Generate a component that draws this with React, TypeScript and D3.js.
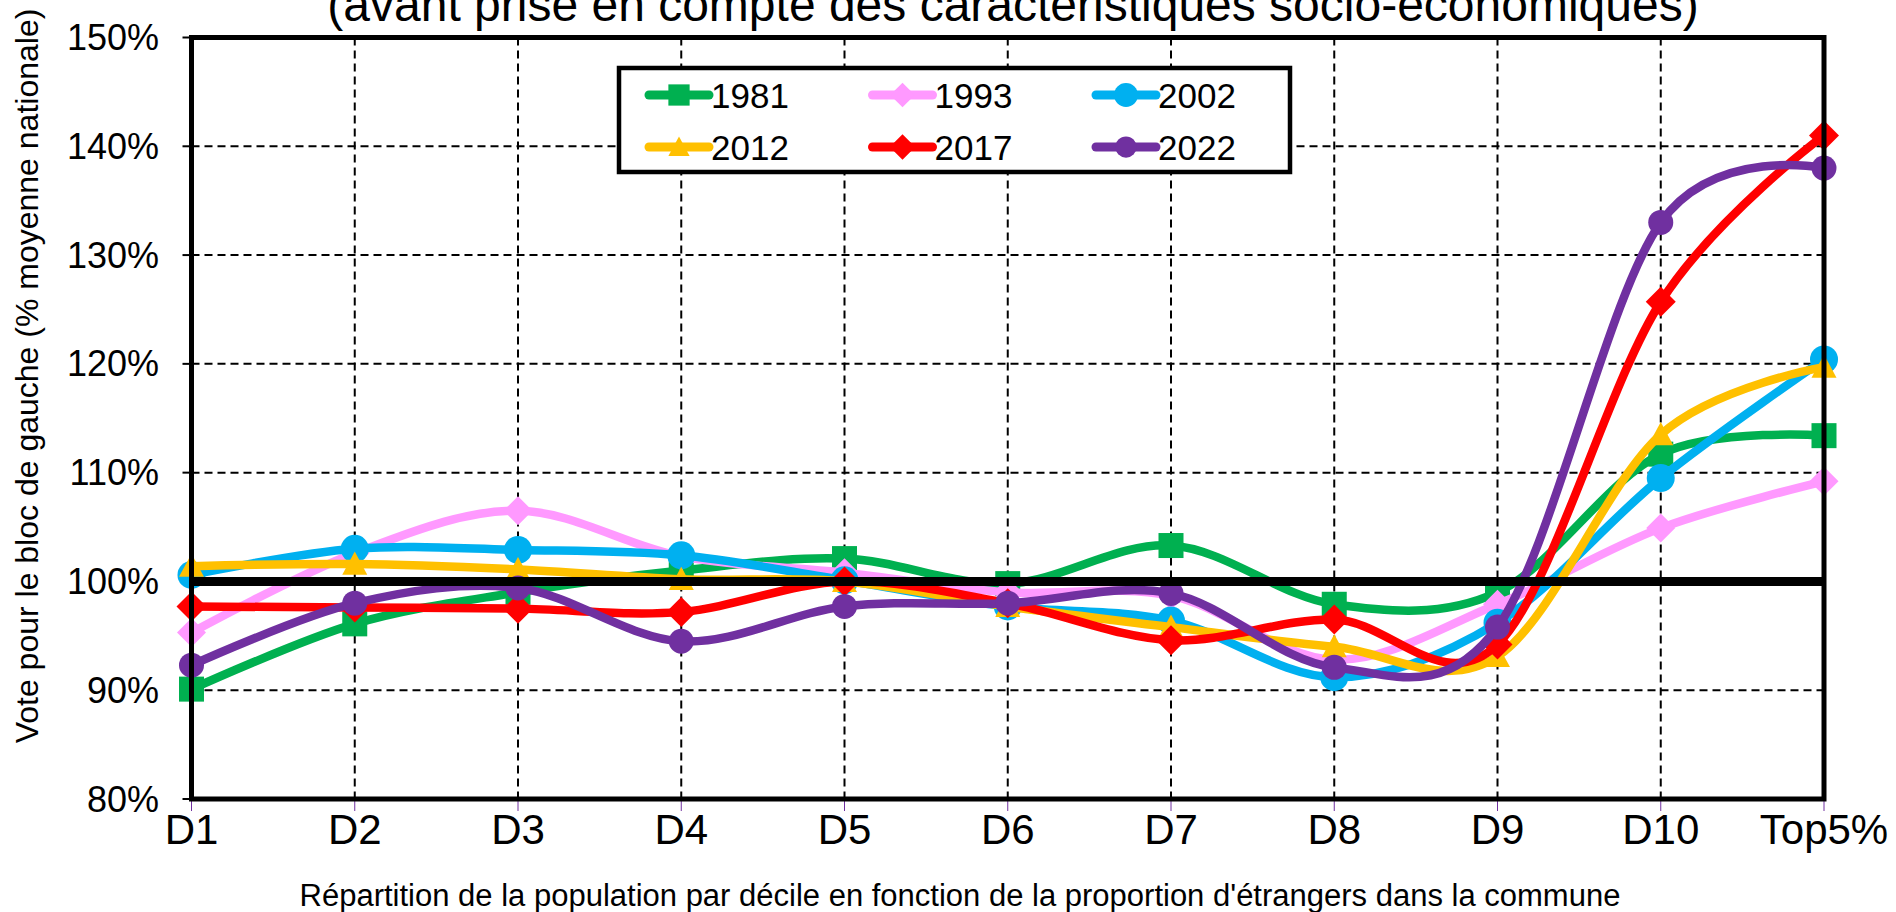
import * as d3 from "d3"

const categories = ["D1", "D2", "D3", "D4", "D5", "D6", "D7", "D8", "D9", "D10", "Top5%"]
const yTicks = [80, 90, 100, 110, 120, 130, 140, 150]

const v1981 = [90.1, 96.1, 99.0, 101.0, 102.1, 99.8, 103.3, 97.9, 99.0, 111.7, 113.4]
const v1993 = [95.3, 102.6, 106.5, 102.3, 100.8, 99.0, 98.7, 92.8, 97.9, 104.9, 109.2]
const v2002 = [100.6, 103.0, 102.9, 102.4, 100.1, 97.7, 96.4, 91.2, 96.2, 109.5, 120.4]
const v2012 = [101.4, 101.6, 101.1, 100.2, 100.0, 97.7, 95.8, 94.0, 93.1, 113.5, 119.7]
const v2017 = [97.7, 97.6, 97.5, 97.2, 100.0, 98.0, 94.6, 96.5, 94.2, 125.7, 141.0]
const v2022 = [92.3, 98.0, 99.4, 94.5, 97.7, 98.0, 98.9, 92.1, 95.8, 133.0, 138.0]

type Shape = "square" | "diamond" | "circle" | "triangle"

const series: { name: string; values: number[]; color: string; shape: Shape; size: number }[] = [
  { name: "1981", values: v1981, color: "#00B050", shape: "square", size: 25 },
  { name: "1993", values: v1993, color: "#FF99FF", shape: "diamond", size: 29 },
  { name: "2002", values: v2002, color: "#00B0F0", shape: "circle", size: 28 },
  { name: "2012", values: v2012, color: "#FFC000", shape: "triangle", size: 25 },
  { name: "2017", values: v2017, color: "#FF0000", shape: "diamond", size: 30 },
  { name: "2022", values: v2022, color: "#7030A0", shape: "circle", size: 25 },
]

const FONT = "'Liberation Sans', Arial, sans-serif"

function Marker({ shape, size, color, x, y }: { shape: Shape; size: number; color: string; x: number; y: number }) {
  const h = size / 2
  if (shape === "square") return <rect x={x - h} y={y - h} width={size} height={size} fill={color} />
  if (shape === "circle") return <circle cx={x} cy={y} r={h} fill={color} />
  if (shape === "diamond")
    return <path d={`M${x},${y - h}L${x + h},${y}L${x},${y + h}L${x - h},${y}Z`} fill={color} />
  return <path d={`M${x},${y - h}L${x + h},${y + h * 0.85}L${x - h},${y + h * 0.85}Z`} fill={color} />
}

export default function App() {
  const width = 1896
  const height = 912
  const margin = { top: 37.5, right: 72, bottom: 113, left: 191.5 }

  const x = d3.scalePoint<string>()
    .domain(categories)
    .range([margin.left, width - margin.right])

  const y = d3.scaleLinear()
    .domain([80, 150])
    .range([height - margin.bottom, margin.top])

  const line = d3.line<number>()
    .x((_, i) => x(categories[i]) ?? 0)
    .y((d) => y(d))
    .curve(d3.curveCardinal.tension(0))

  // legend layout
  const legX = 619
  const legY = 68
  const colW = 223.5
  const rowH = 52

  return (
    <svg
      width={width}
      height={height}
      style={{ position: "absolute", left: 0, top: 0, background: "#fff" }}
      fontFamily={FONT}
    >
      {/* Title (cut at the top, as in the source) */}
      <text x={1013} y={21} textAnchor="middle" fontSize={48} fill="#000">
        (avant prise en compte des caractéristiques socio-économiques)
      </text>

      {/* gridlines */}
      {yTicks.filter((t) => t > 80 && t < 150 && t !== 100).map((t) => (
        <line key={"gy" + t} x1={margin.left} x2={width - margin.right} y1={y(t)} y2={y(t)}
          stroke="#000" strokeWidth={2} strokeDasharray="8,5" />
      ))}
      {categories.slice(1, -1).map((c) => (
        <line key={"gx" + c} x1={x(c)} x2={x(c)} y1={margin.top} y2={height - margin.bottom}
          stroke="#000" strokeWidth={2} strokeDasharray="8,5" />
      ))}

      {/* y ticks + labels */}
      {yTicks.map((t) => (
        <g key={"yt" + t}>
          <line x1={margin.left - 9} x2={margin.left} y1={y(t)} y2={y(t)} stroke="#000" strokeWidth={2} />
          <text x={159} y={y(t) + 12.5} textAnchor="end" fontSize={36} fill="#000">{t}%</text>
        </g>
      ))}

      {/* x ticks + labels */}
      {categories.map((c) => (
        <g key={"xt" + c}>
          <line x1={x(c)} x2={x(c)} y1={height - margin.bottom} y2={height - margin.bottom + 12}
            stroke="#7030A0" strokeWidth={1} />
          <text x={x(c)} y={844} textAnchor="middle" fontSize={42} fill="#000">{c}</text>
        </g>
      ))}

      {/* series */}
      {series.map((s) => (
        <g key={s.name}>
          <path d={line(s.values) ?? ""} fill="none" stroke={s.color} strokeWidth={8.5}
            strokeLinejoin="round" strokeLinecap="round" />
          {s.values.map((v, i) => (
            <Marker key={i} shape={s.shape} size={s.size} color={s.color} x={x(categories[i]) ?? 0} y={y(v)} />
          ))}
        </g>
      ))}

      {/* 100% reference line */}
      <line x1={margin.left} x2={width - margin.right} y1={y(100)} y2={y(100)} stroke="#000" strokeWidth={9} />

      {/* plot frame */}
      <rect x={margin.left} y={margin.top} width={width - margin.right - margin.left}
        height={height - margin.bottom - margin.top} fill="none" stroke="#000" strokeWidth={5} />

      {/* legend */}
      <rect x={legX} y={legY} width={671} height={104} fill="#fff" stroke="#000" strokeWidth={4.5} />
      {series.map((s, i) => {
        const col = i % 3
        const row = Math.floor(i / 3)
        const lx = legX + 30 + col * colW
        const ly = legY + 27 + row * rowH
        return (
          <g key={"leg" + s.name}>
            <line x1={lx} x2={lx + 60} y1={ly} y2={ly} stroke={s.color} strokeWidth={9} strokeLinecap="round" />
            <Marker shape={s.shape} size={s.size * 0.85} color={s.color} x={lx + 30} y={ly} />
            <text x={lx + 62} y={ly + 12.5} fontSize={35} fill="#000">{s.name}</text>
          </g>
        )
      })}

      {/* axis titles */}
      <text transform={`translate(38,${376}) rotate(-90)`} textAnchor="middle" fontSize={32} fill="#000">
        Vote pour le bloc de gauche (% moyenne nationale)
      </text>
      <text x={960} y={906} textAnchor="middle" fontSize={31} fill="#000">
        Répartition de la population par décile en fonction de la proportion d'étrangers dans la commune
      </text>
    </svg>
  )
}
